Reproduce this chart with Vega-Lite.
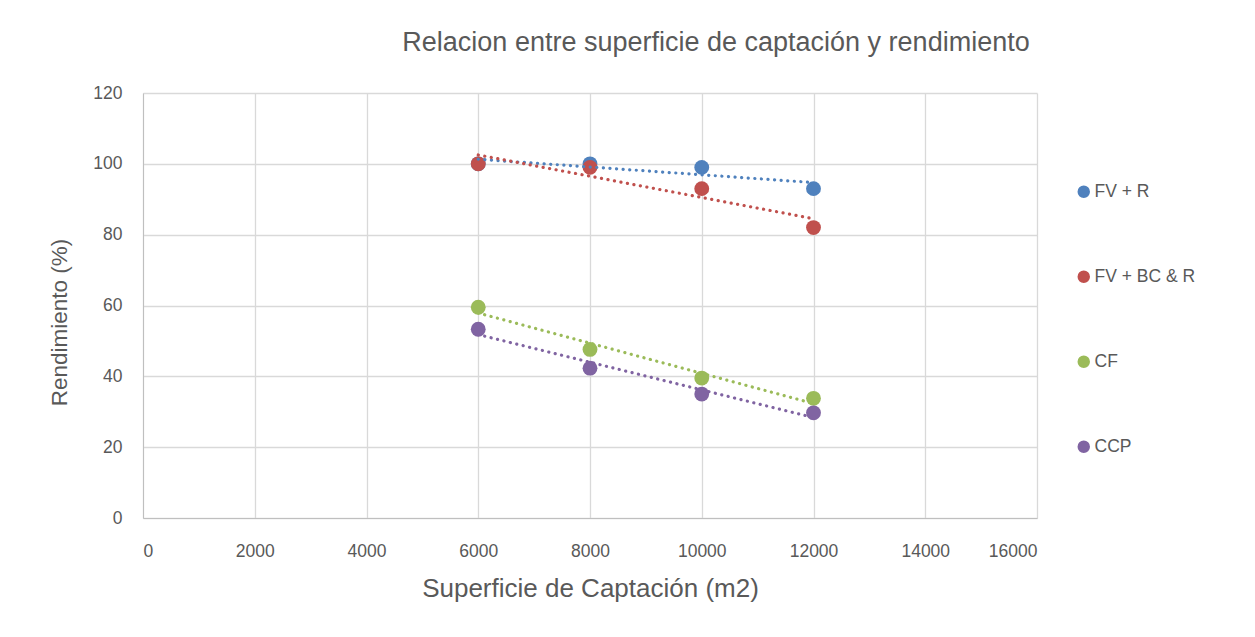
{
  "$schema": "https://vega.github.io/schema/vega-lite/v6.json",
  "autosize": {"type": "none"},
  "width": 894,
  "height": 425,
  "padding": {"left": 143, "top": 93, "right": 218, "bottom": 119},
  "background": "white",
  "title": {
    "text": "Relacion entre superficie de captación y rendimiento",
    "fontSize": 27,
    "font": "Liberation Sans",
    "fontWeight": "normal",
    "color": "#595959",
    "anchor": "middle",
    "frame": "group",
    "dx": 126,
    "baseline": "bottom",
    "offset": 0
  },
  "config": {
    "font": "Liberation Sans",
    "view": {"stroke": null},
    "axis": {
      "labelColor": "#595959",
      "titleColor": "#595959",
      "labelFontSize": 17.5,
      "titleFontWeight": "normal",
      "gridColor": "#d9d9d9",
      "gridWidth": 1.3,
      "domainColor": "#bfbfbf",
      "ticks": false
    }
  },
  "data": {
    "values": [
      {"serie": "FV + R", "x": 6000, "y": 100},
      {"serie": "FV + R", "x": 8000, "y": 100},
      {"serie": "FV + R", "x": 10000, "y": 99},
      {"serie": "FV + R", "x": 12000, "y": 93},
      {"serie": "FV + BC & R", "x": 6000, "y": 100},
      {"serie": "FV + BC & R", "x": 8000, "y": 99},
      {"serie": "FV + BC & R", "x": 10000, "y": 93},
      {"serie": "FV + BC & R", "x": 12000, "y": 82},
      {"serie": "CF", "x": 6000, "y": 59.5},
      {"serie": "CF", "x": 8000, "y": 47.6},
      {"serie": "CF", "x": 10000, "y": 39.5},
      {"serie": "CF", "x": 12000, "y": 33.8},
      {"serie": "CCP", "x": 6000, "y": 53.3},
      {"serie": "CCP", "x": 8000, "y": 42.3},
      {"serie": "CCP", "x": 10000, "y": 35},
      {"serie": "CCP", "x": 12000, "y": 29.7}
    ]
  },
  "layer": [
    {
      "mark": {"type": "point", "filled": true, "opacity": 1, "size": 220, "shape": "circle"},
      "encoding": {
        "x": {
          "field": "x", "type": "quantitative",
          "scale": {"domain": [0, 16000], "nice": false},
          "axis": {"values": [0, 2000, 4000, 6000, 8000, 10000, 12000, 14000, 16000], "format": "d", "labelPadding": 24, "title": "Superficie de Captación (m2)", "titleFontSize": 26, "titlePadding": 16}
        },
        "y": {
          "field": "y", "type": "quantitative",
          "scale": {"domain": [0, 120], "nice": false},
          "axis": {"values": [0, 20, 40, 60, 80, 100, 120], "labelPadding": 21, "title": "Rendimiento (%)", "titleFontSize": 22.5, "titlePadding": 21, "titleY": 229}
        },
        "color": {
          "field": "serie", "type": "nominal",
          "scale": {"domain": ["FV + R", "FV + BC & R", "CF", "CCP"], "range": ["#4F81BD", "#C0504D", "#9BBB59", "#8064A2"]},
          "legend": {
            "title": null,
            "orient": "none",
            "legendX": 932,
            "legendY": 90,
            "symbolType": "circle",
            "symbolSize": 120,
            "labelFontSize": 17.5,
            "labelColor": "#595959",
            "rowPadding": 66,
            "labelOffset": 2
          }
        }
      }
    },
    {
      "transform": [
        {"regression": "y", "on": "x", "groupby": ["serie"], "extent": [6000, 12000]}
      ],
      "mark": {"type": "line", "strokeDash": [0.1, 6.5], "strokeCap": "round", "strokeWidth": 3.2},
      "encoding": {
        "x": {"field": "x", "type": "quantitative"},
        "y": {"field": "y", "type": "quantitative"},
        "color": {"field": "serie", "type": "nominal", "legend": null}
      }
    }
  ]
}
